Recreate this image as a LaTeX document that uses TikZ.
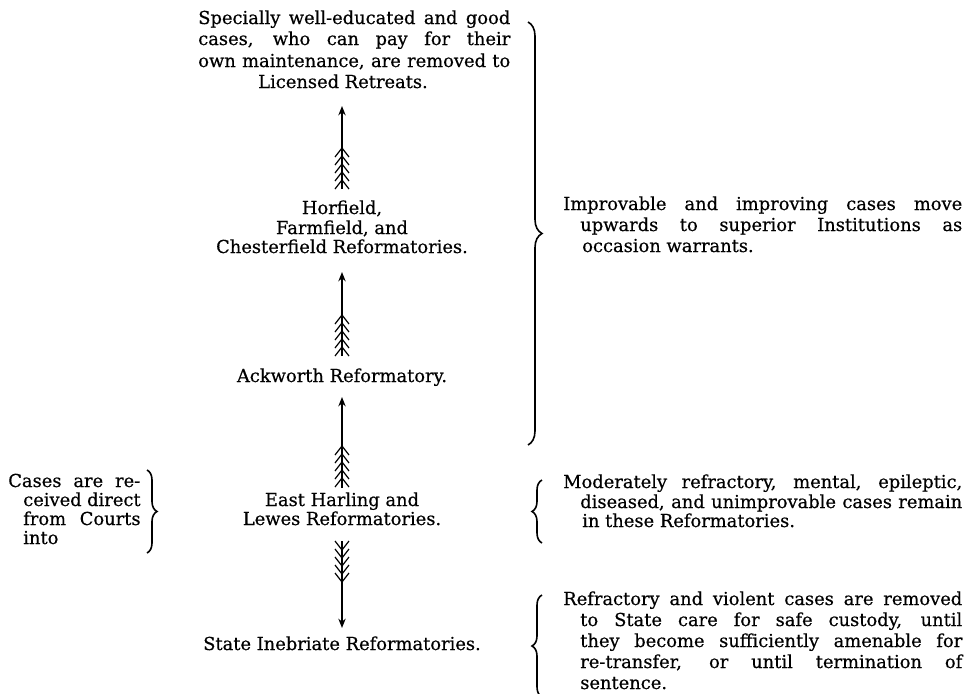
\documentclass[tikz,border=0pt]{standalone}
\usepackage{fontspec}
\setmainfont[FakeBold=0.5]{DejaVu Serif}
\usetikzlibrary{decorations.pathreplacing,arrows.meta}
\newcommand\jl[2]{\makebox[#1][s]{#2}}
\tikzset{
  fup/.pic={\foreach \k in {0,...,4}{\draw[line width=0.9pt] (-7,9+8*\k) -- (0,8*\k) -- (7,9+8*\k);}},
  fdown/.pic={\foreach \k in {0,...,4}{\draw[line width=0.9pt] (-7,-9+8*\k) -- (0,8*\k) -- (7,-9+8*\k);}}
}
\begin{document}
\begin{tikzpicture}[x=0.75pt,y=-0.75pt,
  txt/.style={inner sep=0pt, font=\fontsize{13.4}{15}\selectfont},
  ctr/.style={txt, anchor=base},
  lft/.style={txt, anchor=base west},
  shaft/.style={line width=1.1pt, -{Stealth[length=7pt,width=5.5pt]}},
  brc/.style={line width=1.2pt, decorate, decoration={brace, amplitude=#1}},
]
\useasboundingbox (0,0) rectangle (968,693);
% top block
\node[lft] (sp1) at (198,24) {\jl{234pt}{Specially well-educated and good}};
\node[lft] (sp2) at (198,45) {\jl{234pt}{cases, who can pay for their}};
\node[lft] (sp3) at (198,67) {\jl{234pt}{own maintenance, are removed to}};
\node[ctr] (sp4) at (343,88) {Licensed Retreats.};
% centre column
\node[ctr] (h1) at (342,214) {Horfield,};
\node[ctr] (h2) at (342,234) {Farmfield, and};
\node[ctr] (h3) at (342,253) {Chesterfield Reformatories.};
\node[ctr] (ack) at (342,382) {Ackworth Reformatory.};
\node[ctr] (eh1) at (342,506) {East Harling and};
\node[ctr] (eh2) at (342,525) {Lewes Reformatories.};
\node[ctr] (sir) at (342,650) {State Inebriate Reformatories.};
% left note
\node[lft] (c1) at (8,487) {\jl{99pt}{Cases are re-}};
\node[lft] (c2) at (23,506) {\jl{88pt}{ceived direct}};
\node[lft] (c3) at (23,525) {\jl{88pt}{from Courts}};
\node[lft] (c4) at (23,544) {into};
% right notes
\node[lft] (i1) at (563,210) {\jl{299.25pt}{Improvable and improving cases move}};
\node[lft] (i2) at (580,231) {\jl{286.5pt}{upwards to superior Institutions as}};
\node[lft] (i3) at (582,252) {occasion warrants.};
\node[lft] (m1) at (563,488) {\jl{299.25pt}{Moderately refractory, mental, epileptic,}};
\node[lft] (m2) at (580,508) {\jl{286.5pt}{diseased, and unimprovable cases remain}};
\node[lft] (m3) at (582,527) {in these Reformatories.};
\node[lft] (r1) at (563,605) {\jl{299.25pt}{Refractory and violent cases are removed}};
\node[lft] (r2) at (580,626) {\jl{286.5pt}{to State care for safe custody, until}};
\node[lft] (r3) at (580,647) {\jl{286.5pt}{they become sufficiently amenable for}};
\node[lft] (r4) at (580,668) {\jl{286.5pt}{re-transfer, or until termination of}};
\node[lft] (r5) at (580,689) {sentence.};
% arrows
\coordinate (a1b) at (342,189); \coordinate (a1t) at (342,106);
\draw[shaft] (a1b) -- (a1t);
\pic at (342,148) {fup};
\coordinate (a2b) at (342,356); \coordinate (a2t) at (342,272);
\draw[shaft] (a2b) -- (a2t);
\pic at (342,315) {fup};
\coordinate (a3b) at (342,488); \coordinate (a3t) at (342,397);
\draw[shaft] (a3b) -- (a3t);
\pic at (342,446) {fup};
\coordinate (a4t) at (342,541); \coordinate (a4b) at (342,628);
\draw[shaft] (a4t) -- (a4b);
\pic at (342,550) {fdown};
% braces
\coordinate (b1s) at (528,22); \coordinate (b1e) at (528,445);
\draw[brc=10.5pt] (b1s) -- (b1e);
\coordinate (b2s) at (542,543); \coordinate (b2e) at (542,480);
\draw[brc=7.5pt] (b2s) -- (b2e);
\coordinate (b3s) at (542,697); \coordinate (b3e) at (542,595);
\draw[brc=7.5pt] (b3s) -- (b3e);
\coordinate (b4s) at (147,470); \coordinate (b4e) at (147,553);
\draw[brc=7.5pt] (b4s) -- (b4e);
\end{tikzpicture}
\end{document}
